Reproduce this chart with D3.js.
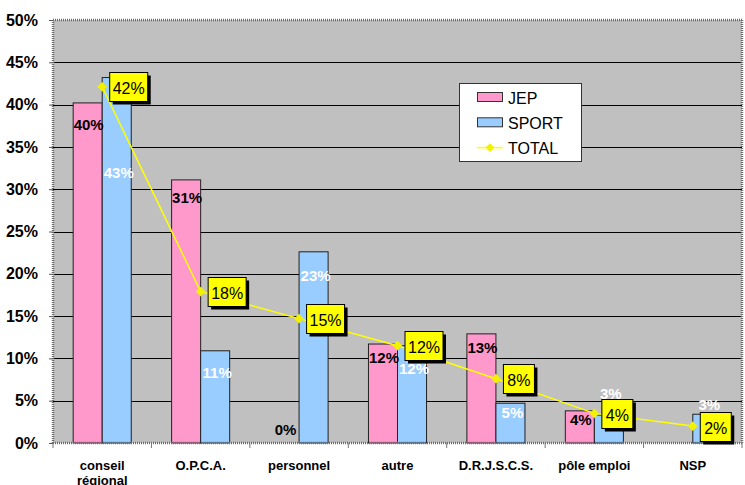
<!DOCTYPE html>
<html><head><meta charset="utf-8">
<script src="https://cdn.jsdelivr.net/npm/d3@7"></script>
<style>
html,body{margin:0;padding:0;background:#fff;}
svg{display:block;font-family:Arial,"Liberation Sans",sans-serif;}
</style></head>
<body><svg id="c" width="745" height="485"></svg>
<script>
const categories = ["conseil régional","O.P.C.A.","personnel","autre","D.R.J.S.C.S.","pôle emploi","NSP"];
const seriesNames = ["JEP","SPORT"];
const jep = [40.2, 31.1, 0, 11.7, 12.9, 3.8, null];
const sport = [43.2, 10.9, 22.6, 11.5, 4.7, 3.3, 3.4];
const total = [42.1, 17.9, 14.7, 11.5, 7.6, 3.5, 2.0];
const yTicks = [0,5,10,15,20,25,30,35,40,45,50];
// label layout (vertical shift of value labels relative to bar top, px)
const jepLabelDy = [22, 18, -14, 13, 14, 9, 0];
const sportLabelDy = [95, 22, 24, 23, 9, -22, -10];

const colors = {JEP:"#ff99cc", SPORT:"#99ccff", TOTAL:"#ffff00"};
const svg = d3.select("#c");
const L = 53, R = 742, T = 20, B = 443;

const x = d3.scaleBand().domain(categories).range([L, R]).padding(0);
const bw = x.bandwidth();
const x1 = d3.scaleBand().domain(seriesNames).range([bw*0.205, bw*0.795]).padding(0);
const y = d3.scaleLinear().domain([0,50]).range([B, T]);

// plot background
svg.append("rect").attr("x", L).attr("y", T).attr("width", R-L).attr("height", B-T).attr("fill", "#c0c0c0");

// gridlines
svg.append("g").selectAll("line").data(yTicks.filter(d => d > 0 && d < 50)).join("line")
  .attr("x1", L).attr("x2", R).attr("y1", d => Math.round(y(d))+0.5).attr("y2", d => Math.round(y(d))+0.5)
  .attr("stroke", "#000").attr("stroke-width", 1);

// bars
const rows = categories.map((c,i) => ({c, JEP: jep[i], SPORT: sport[i], i}));
const g = svg.append("g");
rows.forEach(r => {
  seriesNames.forEach(s => {
    const v = r[s];
    if (v === null || v <= 0) return;
    g.append("rect")
      .attr("x", x(r.c) + x1(s)).attr("y", y(v))
      .attr("width", x1.bandwidth()).attr("height", y(0) - y(v))
      .attr("fill", colors[s]).attr("stroke", "#222").attr("stroke-width", 1);
  });
});

// axes frame (dotted)
const frame = svg.append("g").attr("fill","none").attr("stroke","#6e6e6e").attr("stroke-width",2.5).attr("stroke-dasharray","1 1");
frame.append("line").attr("x1",L).attr("x2",R).attr("y1",T).attr("y2",T);
frame.append("line").attr("x1",R).attr("x2",R).attr("y1",T).attr("y2",B);
frame.append("line").attr("x1",L).attr("x2",L).attr("y1",T).attr("y2",B);
frame.append("line").attr("x1",L).attr("x2",R).attr("y1",B).attr("y2",B);

// y axis
const yAxis = d3.axisLeft(y).tickValues(yTicks).tickSize(4).tickFormat(d => d + "%");
const ya = svg.append("g").attr("transform", `translate(${L},0)`).call(yAxis);
ya.select(".domain").remove();
ya.selectAll(".tick line").attr("stroke", "#555");
ya.selectAll(".tick text").attr("x", -15).attr("font-size", 16).attr("font-weight", "bold")
  .attr("fill", "#000").attr("font-family", "Arial, 'Liberation Sans', sans-serif");

// x axis
const xa = svg.append("g").attr("transform", `translate(0,${B})`);
const bounds = categories.map(c => x(c)).concat([R]);
xa.selectAll("line").data(bounds).join("line")
  .attr("x1", d => d).attr("x2", d => d).attr("y1", 0).attr("y2", 5).attr("stroke", "#777");
xa.selectAll("text").data(categories).join("text")
  .attr("x", d => x(d) + bw/2).attr("y", 27)
  .attr("text-anchor", "middle").attr("font-size", 13).attr("font-weight", "bold").attr("fill", "#000")
  .each(function(d){
    const parts = d === "conseil régional" ? ["conseil","régional"] : [d];
    const t = d3.select(this);
    parts.forEach((p,k) => t.append("tspan").attr("x", x(d)+bw/2).attr("dy", k ? 15 : 0).text(p));
  });

// total line
const line = d3.line().x((d,i) => x(categories[i]) + bw/2).y(d => y(d));
svg.append("path").datum(total).attr("d", line).attr("fill", "none")
  .attr("stroke", colors.TOTAL).attr("stroke-width", 1.5);
svg.append("g").selectAll("path").data(total).join("path")
  .attr("d", d3.symbol(d3.symbolDiamond2, 60)())
  .attr("transform", (d,i) => `translate(${x(categories[i]) + bw/2},${y(d)})`)
  .attr("fill", "#f2f200");

// bar value labels
rows.forEach(r => {
  const i = r.i;
  if (r.JEP !== null) {
    svg.append("text").attr("x", x(r.c) + x1("JEP") + x1.bandwidth()/2 + 1)
      .attr("y", y(r.JEP) + jepLabelDy[i]).attr("dominant-baseline", "central")
      .attr("text-anchor", "middle").attr("font-size", 15).attr("font-weight", "bold").attr("fill", "#000")
      .text(Math.round(r.JEP) + "%");
  }
  if (r.SPORT !== null) {
    svg.append("text").attr("x", x(r.c) + x1("SPORT") + x1.bandwidth()/2 + 2)
      .attr("y", y(r.SPORT) + sportLabelDy[i]).attr("dominant-baseline", "central")
      .attr("text-anchor", "middle").attr("font-size", 15).attr("font-weight", "bold").attr("fill", "#fff")
      .text(Math.round(r.SPORT) + "%");
  }
});

// total labels in yellow boxes
total.forEach((v,i) => {
  const px = x(categories[i]) + bw/2, py = y(v);
  const txt = Math.round(v) + "%";
  const w = txt.length === 3 ? 38 : 31, h = 29;
  const bx = px + 7.5, by = Math.round(py - h/2) + 0.5;
  svg.append("rect").attr("x", bx+3).attr("y", by+3).attr("width", w).attr("height", h).attr("fill", "#000");
  svg.append("rect").attr("x", bx).attr("y", by).attr("width", w).attr("height", h)
    .attr("fill", "#ffff00").attr("stroke", "#000").attr("stroke-width", 1);
  svg.append("text").attr("x", bx + w/2).attr("y", by + h/2 + 1).attr("dominant-baseline", "central")
    .attr("text-anchor", "middle").attr("font-size", 16).attr("fill", "#000").text(txt);
});

// legend
const lg = svg.append("g");
lg.append("rect").attr("x", 459.5).attr("y", 83.5).attr("width", 122).attr("height", 78)
  .attr("fill", "#fff").attr("stroke", "#333").attr("stroke-width", 1);
const items = ["JEP","SPORT","TOTAL"];
items.forEach((s,k) => {
  const cy = 97 + k*25.3;
  if (s === "TOTAL") {
    lg.append("line").attr("x1", 477).attr("x2", 503).attr("y1", cy).attr("y2", cy)
      .attr("stroke", colors.TOTAL).attr("stroke-width", 1.5);
    lg.append("path").attr("d", d3.symbol(d3.symbolDiamond2, 50)()).attr("transform", `translate(490,${cy})`).attr("fill", "#f2f200");
  } else {
    lg.append("rect").attr("x", 477.5).attr("y", cy-4.5).attr("width", 25).attr("height", 9)
      .attr("fill", colors[s]).attr("stroke", "#333").attr("stroke-width", 1);
  }
  lg.append("text").attr("x", 508).attr("y", cy + 1).attr("dominant-baseline", "central")
    .attr("font-size", 16).attr("fill", "#000").text(s);
});
</script>
</body></html>
